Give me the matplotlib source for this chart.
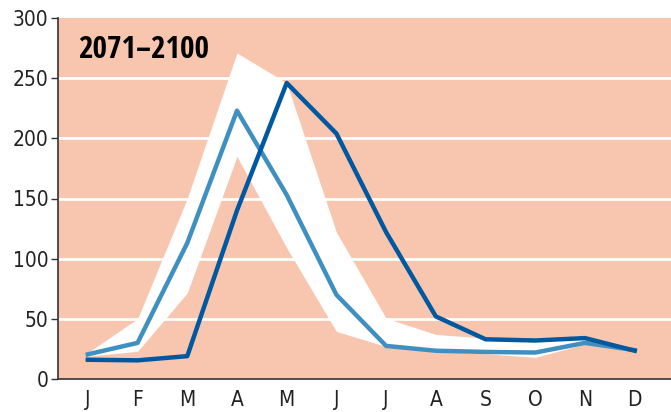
import matplotlib.pyplot as plt
import numpy as np

months = ["J", "F", "M", "A", "M", "J", "J", "A", "S", "O", "N", "D"]
future_flow = [16, 15.5, 19, 140, 246, 204, 122, 52, 33, 32, 34, 23.5]
ref_flow = [20.5, 30, 113, 223, 153, 70, 27.5, 23.5, 22.5, 22, 30, 24]
band_upper = [22, 50, 150, 271, 246, 122, 50.5, 37, 34, 33, 33, 24]
band_lower = [19, 23, 71.5, 185, 109, 39.5, 27, 23, 21, 18, 29, 24]

x = np.arange(len(months))

fig = plt.figure(figsize=(6.71, 4.12), dpi=100)
ax = fig.add_axes([58 / 671, 33 / 412, 1 - 58 / 671, (379 - 18) / 412])
ax.set_facecolor("#F8C5AF")

ax.fill_between(x, band_lower, band_upper, color="white", linewidth=0, zorder=2)
for yv in range(50, 300, 50):
    ax.axhline(yv, color="white", linewidth=2, zorder=1)
ax.plot(x, ref_flow, color="#3F8FC0", linewidth=3.2, zorder=3)
ax.plot(x, future_flow, color="#0059A0", linewidth=3.2, zorder=4)

ax.set_xlim(-0.6, 11.73)
ax.set_ylim(0, 300)
ax.set_yticks(range(0, 301, 50))
ax.set_xticks(x)
ax.set_xticklabels(months)

for lbl in ax.get_xticklabels() + ax.get_yticklabels():
    lbl.set_fontfamily("DejaVu Sans")
    lbl.set_fontstretch("condensed")
    lbl.set_fontsize(15)
    lbl.set_color("#222222")

ax.tick_params(axis="x", length=0, pad=8)
ax.tick_params(axis="y", length=5, width=1, color="#333333", pad=2)
for side in ["top", "right"]:
    ax.spines[side].set_visible(False)
for side in ["left", "bottom"]:
    ax.spines[side].set_color("#333333")
    ax.spines[side].set_linewidth(1.2)

ax.text(0.033, 0.91, "2071\u20132100", transform=ax.transAxes,
        fontfamily="Open Sans Condensed", fontweight="bold", fontstretch="condensed",
        fontsize=22.5, color="black", va="center", ha="left")

fig.savefig("out.png", dpi=100)
